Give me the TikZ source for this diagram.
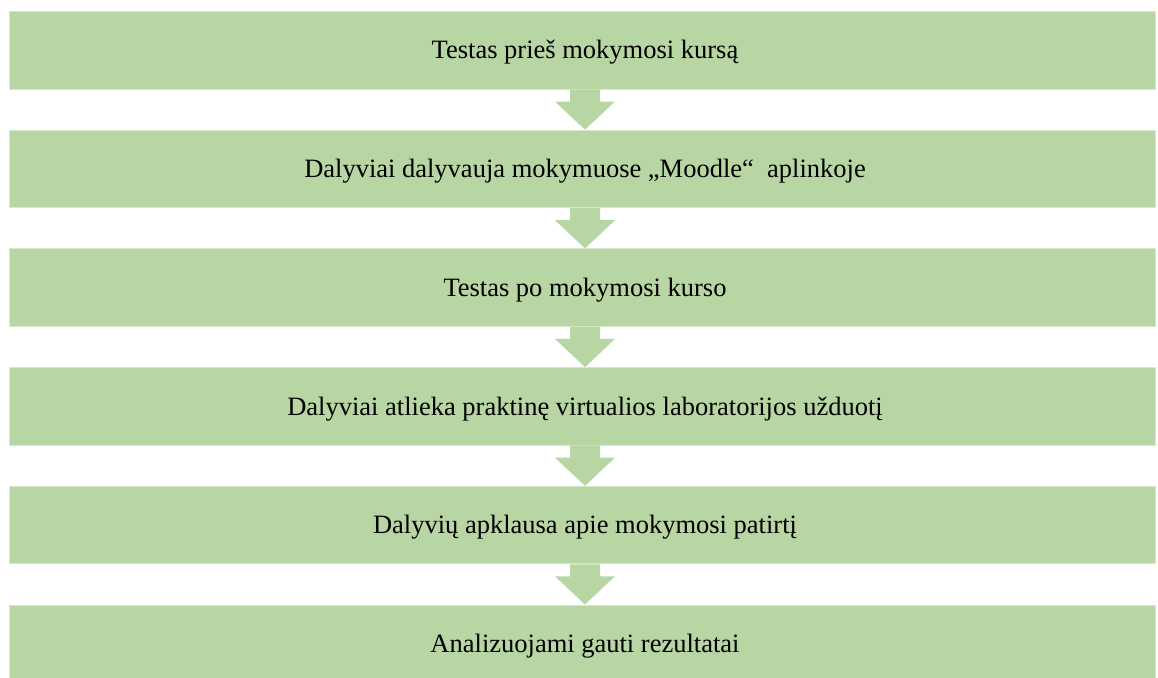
\documentclass[tikz,border=0pt]{standalone}
\usepackage{fontspec}
\setmainfont{Liberation Serif}
\usetikzlibrary{calc}
\definecolor{boxgreen}{RGB}{184,213,164}
\definecolor{boxedge}{RGB}{214,231,202}
\tikzset{
  stepbox/.style={fill=boxgreen, draw=boxedge, line width=1pt,
    minimum width=1146pt, minimum height=77.5pt, inner sep=0pt,
    text height=17.5pt, text depth=0pt,
    font=\fontsize{26.5}{31}\selectfont, text=black},
  blockarrow/.style={fill=boxgreen, draw=none}
}
\begin{document}
\begin{tikzpicture}[x=1pt,y=-1pt]
\fill[white] (0,0) rectangle (1158,677);
\clip (0,0) rectangle (1158,677);
\node[stepbox] (b1) at (582,50.25) {\hspace*{6pt}Testas prieš mokymosi kursą};
\node[stepbox] (b2) at (582,168.95) {\hspace*{6pt}Dalyviai dalyvauja mokymuose „Moodle“~~aplinkoje};
\node[stepbox] (b3) at (582,287.65) {\hspace*{6pt}Testas po mokymosi kurso};
\node[stepbox] (b4) at (582,406.35) {\hspace*{6pt}Dalyviai atlieka praktinę virtualios laboratorijos užduotį};
\node[stepbox] (b5) at (582,525.05) {\hspace*{6pt}Dalyvių apklausa apie mokymosi patirtį};
\node[stepbox] (b6) at (582,643.75) {\hspace*{6pt}Analizuojami gauti rezultatai};
\foreach \a/\b in {b1/b2,b2/b3,b3/b4,b4/b5,b5/b6}{
  \fill[blockarrow] ($(\a.south)+(-12,0)$) -- ($(\a.south)+(-12,12)$)
    -- ($(\a.south)+(-27,12)$) -- ($(\b.north)+(3,0)$)
    -- ($(\a.south)+(33,12)$) -- ($(\a.south)+(18,12)$)
    -- ($(\a.south)+(18,0)$) -- cycle;
}
\end{tikzpicture}
\end{document}
